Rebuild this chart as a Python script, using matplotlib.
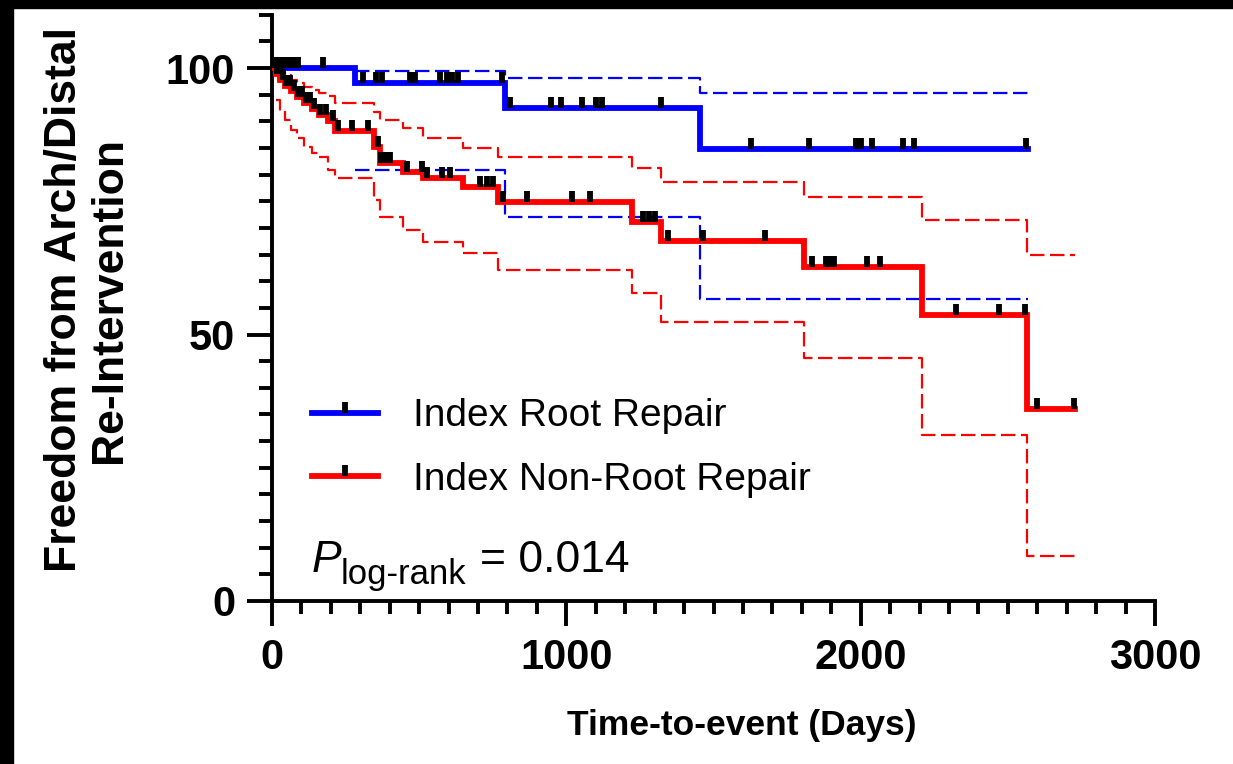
import numpy as np
import matplotlib
matplotlib.use("Agg")
import matplotlib.pyplot as plt
from matplotlib.lines import Line2D
from matplotlib.patches import Rectangle
from matplotlib.path import Path
from matplotlib.ticker import MultipleLocator

plt.rcParams['font.family'] = ['Liberation Sans', 'DejaVu Sans']

# Index Root Repair (blue) - KM steps, days / % free from re-intervention
root_t = [0, 282, 792, 1455]
root_s = [100, 97.2, 92.5, 84.8]
root_end = 2569
root_ci_t = [282, 792, 1455]
root_hi = [99.5, 98.1, 95.3]
root_lo = [80.9, 72.0, 56.7]
root_cens = [5, 15, 25, 35, 50, 65, 80, 90, 173,
             309, 353, 374, 469, 486, 571, 595, 612, 632, 782,
             809, 948, 982, 1053, 1101, 1121, 1322,
             1628, 1825, 1984, 2001, 2039, 2144, 2181, 2562]

# Index Non-Root Repair (red)
nonroot_t = [0, 12, 28, 45, 65, 85, 110, 135, 160, 190, 215, 345, 367,
             445, 513, 649, 768, 1223, 1322, 1808, 2209, 2565]
nonroot_s = [100, 98.9, 97.8, 96.7, 95.6, 94.5, 93.4, 92.3, 91.2, 90.1, 88.2,
             85.2, 82.2, 80.5, 79.3, 77.7, 74.8, 71.1, 67.5, 62.7, 53.7, 36.0]
nonroot_end = 2729
nonroot_hi = [99.8, 99.3, 98.6, 97.8, 97.2, 96.5, 95.9, 95.3, 94.7, 93.4,
              91.8, 90.2, 88.7, 86.9, 85.0, 83.3, 81.2, 78.6, 75.8, 71.5, 64.9]
nonroot_lo = [94.0, 92.0, 90.2, 88.4, 86.8, 85.2, 84.0, 83.3, 80.9, 79.4,
              75.2, 72.0, 69.6, 67.4, 65.3, 62.1, 57.8, 52.3, 45.6, 31.1, 8.4]
nonroot_cens = [7, 17, 27, 37, 48, 61, 75, 88, 102, 116, 129, 143, 163, 184, 207, 224,
                272, 326, 360, 372, 385, 400, 459, 510, 527, 578, 605, 707, 730, 750,
                785, 866, 1019, 1080, 1261, 1281, 1301, 1346, 1464, 1675,
                1835, 1882, 1896, 1910, 2022, 2066, 2324, 2470, 2559, 2599, 2725]

labels = ['Index Root Repair', 'Index Non-Root Repair']
colors = ['#0000FF', '#FF0000']

tick_mark = Path([(0, 0), (0, 1)])  # censor tick sitting on top of the line


def stairs(t, s, end):
    return list(t) + [end], list(s) + [s[-1]]


def value_at(t, s, when):
    idx = np.searchsorted(t, when, side='right') - 1
    return np.asarray(s)[idx]


fig = plt.figure(figsize=(12.33, 7.64), dpi=100)
ax = fig.add_axes([272 / 1233, 163 / 764, 883 / 1233, 586.3 / 764])

groups = [
    (root_t, root_s, root_end, root_ci_t, root_hi, root_lo, root_cens),
    (nonroot_t, nonroot_s, nonroot_end, nonroot_t[1:], nonroot_hi, nonroot_lo, nonroot_cens),
]

for (t, s, end, ct, hi, lo, cens), col in zip(groups, colors):
    for band in (hi, lo):
        x, y = stairs(ct, band, end)
        ax.step(x, y, where='post', color=col, lw=1.6, dashes=(6.5, 2.5), zorder=2)

for (t, s, end, ct, hi, lo, cens), col in zip(groups, colors):
    x, y = stairs(t, s, end)
    ax.step(x, y, where='post', color=col, lw=4.2, zorder=3, solid_joinstyle='miter')
    ax.plot(cens, value_at(t, s, cens), ls='none', marker=tick_mark, ms=16,
            mec='black', mew=4.2, zorder=4)

ax.set_xlim(0, 3000)
ax.set_ylim(0, 110)
ax.xaxis.set_major_locator(MultipleLocator(1000))
ax.xaxis.set_minor_locator(MultipleLocator(100))
ax.yaxis.set_major_locator(MultipleLocator(50))
ax.yaxis.set_minor_locator(MultipleLocator(5))
ax.set_yticks([0, 50, 100])

for side in ('top', 'right'):
    ax.spines[side].set_visible(False)
for side in ('left', 'bottom'):
    ax.spines[side].set_linewidth(2.8)

ax.tick_params(which='major', length=18, width=2.8, direction='out', labelsize=30, pad=8.5)
ax.tick_params(which='minor', length=9.5, width=2.8, direction='out')
for lbl in ax.get_xticklabels() + ax.get_yticklabels():
    lbl.set_fontweight('bold')

handles = [Line2D([], [], color=c, lw=4.2, marker=tick_mark, ms=16, mec='black', mew=4.2)
           for c in colors]
ax.legend(handles, labels, loc='center left', bbox_to_anchor=(312 / 1233, (764 - 448) / 764),
          bbox_transform=fig.transFigure, frameon=False, fontsize=28, handlelength=1.7,
          handletextpad=0.9, labelspacing=0.7, borderpad=0, borderaxespad=0)

fig.text(312 / 1233, (764 - 572) / 764, 'P', style='italic', fontsize=32, va='baseline')
fig.text(341 / 1233, (764 - 584) / 764, 'log-rank', fontsize=25, va='baseline')
fig.text(480 / 1233, (764 - 572) / 764, '= 0.014', fontsize=32, va='baseline')

fig.text(87 / 1233, (764 - 300) / 764, 'Freedom from Arch/Distal\nRe-Intervention',
         rotation=90, ha='center', va='center', multialignment='center',
         fontsize=32, fontweight='bold', linespacing=1.1)
fig.text(742 / 1233, (764 - 725) / 764, 'Time-to-event (Days)', ha='center', va='center',
         fontsize=25.5, fontweight='bold')

# black frame strips at top and left of the original picture
fig.add_artist(Rectangle((0, 1 - 8 / 764), 1, 8 / 764, transform=fig.transFigure,
                         color='black', zorder=10))
fig.add_artist(Rectangle((0, 0), 13 / 1233, 1, transform=fig.transFigure,
                         color='black', zorder=10))

fig.savefig('out.png', dpi=100)
